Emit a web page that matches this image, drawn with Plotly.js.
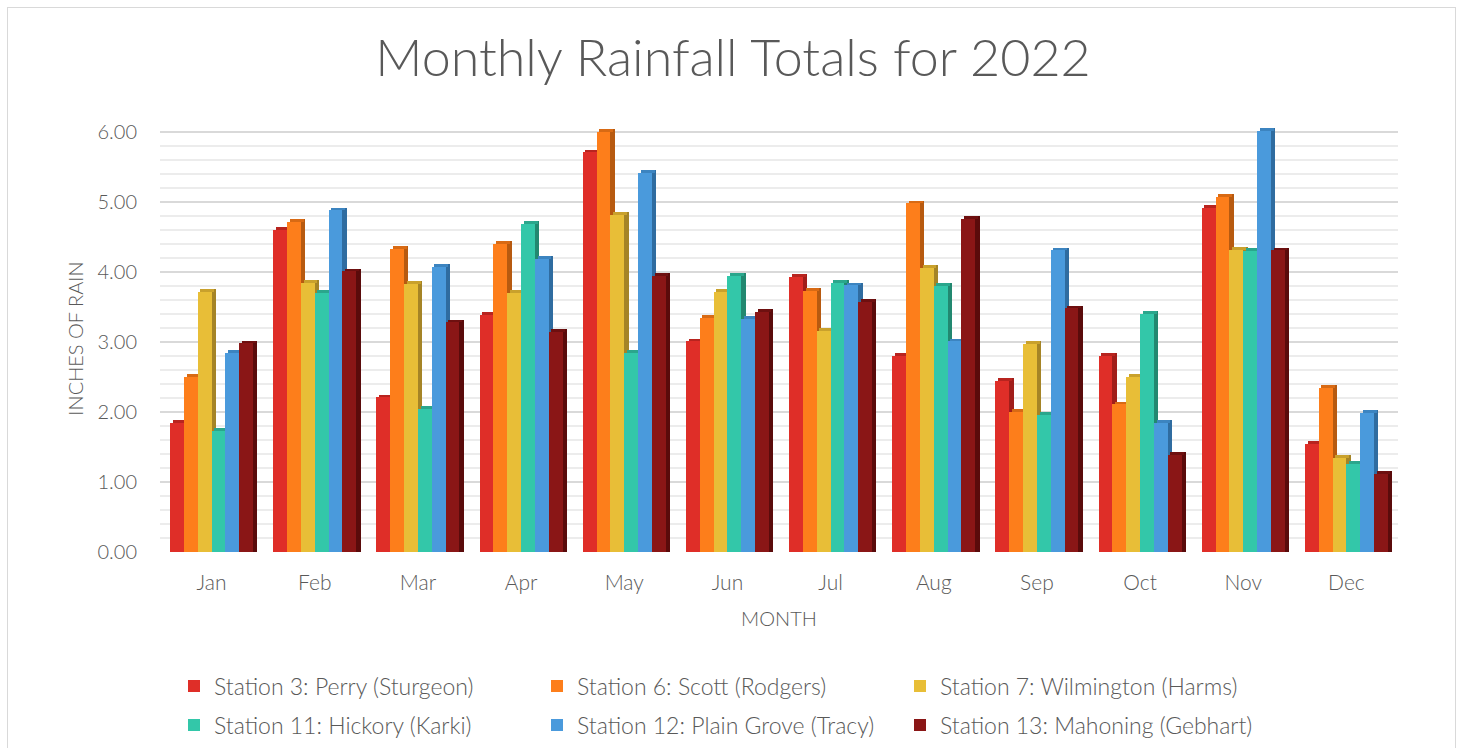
<!DOCTYPE html>
<html>
<head>
<meta charset="utf-8">
<script src="https://cdn.plot.ly/plotly-3.0.1.min.js"></script>
<style>
  html, body { margin: 0; padding: 0; background: #fff; }
  #chart { width: 1466px; height: 748px; }
  #frame { position: absolute; left: 7px; top: 7px; width: 1449px; height: 760px;
           border: 1.5px solid #d9d9d9; pointer-events: none; box-sizing: border-box; }
</style>
</head>
<body>
<div id="chart"></div>
<div id="frame"></div>
<script>
const months = ['Jan', 'Feb', 'Mar', 'Apr', 'May', 'Jun', 'Jul', 'Aug', 'Sep', 'Oct', 'Nov', 'Dec'];
const stationNames = [
  'Station 3: Perry (Sturgeon)',
  'Station 6: Scott (Rodgers)',
  'Station 7: Wilmington (Harms)',
  'Station 11: Hickory (Karki)',
  'Station 12: Plain Grove (Tracy)',
  'Station 13: Mahoning (Gebhart)'
];
const perry      = [1.84, 4.60, 2.21, 3.39, 5.71, 3.01, 3.93, 2.80, 2.45, 2.80, 4.92, 1.54];
const scott      = [2.50, 4.72, 4.33, 4.40, 6.00, 3.35, 3.73, 4.98, 2.00, 2.11, 5.07, 2.35];
const wilmington = [3.72, 3.85, 3.83, 3.70, 4.82, 3.72, 3.16, 4.06, 2.97, 2.50, 4.32, 1.35];
const hickory    = [1.73, 3.70, 2.04, 4.69, 2.85, 3.95, 3.85, 3.80, 1.96, 3.40, 4.30, 1.26];
const plainGrove = [2.84, 4.88, 4.07, 4.19, 5.42, 3.33, 3.81, 3.01, 4.31, 1.85, 6.02, 1.99];
const mahoning   = [2.98, 4.01, 3.28, 3.15, 3.95, 3.43, 3.57, 4.76, 3.48, 1.39, 4.31, 1.12];

const series = [perry, scott, wilmington, hickory, plainGrove, mahoning];
const frontColors = ['#DF2E28', '#FD7E1B', '#E8BE37', '#33C7A9', '#4A9ADC', '#8A1616'];
const sideColors  = ['#A11E1A', '#B75A10', '#A58426', '#228870', '#2F6CA0', '#5A0B0B'];
const capColors   = ['#B8241F', '#D86A14', '#C9A12C', '#2AA68C', '#3C84C0', '#6E1010'];

const FONT = 'Lato, "Open Sans", sans-serif';
const TEXT = '#595959';
const WEIGHT = 300;
const W = 0.134;      // bar width in category units
const DX = 0.042;     // depth offset (x) in category units
const DY = 0.04;      // depth offset (y) in value units
const START = -3 * W;

const sides = [], caps = [], fronts = [];
series.forEach((vals, i) => {
  const off = START + i * W;
  sides.push({
    type: 'bar', x: months, y: vals.map(v => v + DY), offset: off + W, width: DX,
    marker: { color: sideColors[i], line: { width: 0 } }, showlegend: false, hoverinfo: 'skip'
  });
  caps.push({
    type: 'bar', x: months, y: vals.map(() => DY), base: vals, offset: off + DX * 0.6, width: W,
    marker: { color: capColors[i], line: { width: 0 } }, showlegend: false, hoverinfo: 'skip'
  });
  fronts.push({
    type: 'bar', name: stationNames[i], x: months, y: vals, offset: off, width: W,
    marker: { color: frontColors[i], line: { width: 0 } },
    legend: i < 3 ? 'legend' : 'legend2'
  });
});

const legendCommon = {
  orientation: 'h', xref: 'container', yref: 'container', xanchor: 'left', yanchor: 'middle',
  font: { family: FONT, size: 23, color: TEXT, weight: WEIGHT }, entrywidthmode: 'pixels', entrywidth: 318,
  bgcolor: 'rgba(0,0,0,0)', itemclick: false, itemdoubleclick: false, tracegroupgap: 0
};

const layout = {
  width: 1466, height: 748,
  paper_bgcolor: '#ffffff', plot_bgcolor: '#ffffff',
  margin: { l: 160, r: 68, t: 125, b: 196 },
  barmode: 'overlay',
  bargap: 0,
  title: {
    text: 'Monthly Rainfall Totals for 2022',
    font: { family: FONT, size: 52, color: TEXT, weight: WEIGHT },
    xref: 'container', x: 0.5, xanchor: 'center',
    yref: 'container', y: 1 - 58 / 748, yanchor: 'middle'
  },
  xaxis: {
    type: 'category', range: [-0.5, 11.5], showgrid: false, showline: false, zeroline: false,
    ticks: '', ticklabelstandoff: 16, automargin: false,
    tickfont: { family: FONT, size: 21, color: TEXT, weight: WEIGHT },
    title: { text: 'MONTH', font: { family: FONT, size: 20, color: TEXT, weight: WEIGHT }, standoff: 18 }
  },
  yaxis: {
    range: [0, 6.1], dtick: 1, tick0: 0, tickformat: '.2f', automargin: false,
    showgrid: true, gridcolor: '#d9d9d9', gridwidth: 1.8, zeroline: false, showline: false,
    ticks: '', ticklabelstandoff: 22,
    minor: { dtick: 0.2, tick0: 0, showgrid: true, gridcolor: '#ececec', gridwidth: 1.3 },
    tickfont: { family: FONT, size: 20, color: TEXT, weight: WEIGHT },
    title: { text: 'INCHES OF RAIN', font: { family: FONT, size: 20, color: TEXT, weight: WEIGHT }, standoff: 8 }
  },
  legend: Object.assign({}, legendCommon, { x: 174 / 1466, y: 1 - 686 / 748 }),
  legend2: Object.assign({}, legendCommon, { x: 174 / 1466, y: 1 - 725 / 748 }),
  hovermode: false
};

Plotly.newPlot('chart', sides.concat(caps, fronts), layout, { displayModeBar: false, staticPlot: true });
</script>
</body>
</html>
